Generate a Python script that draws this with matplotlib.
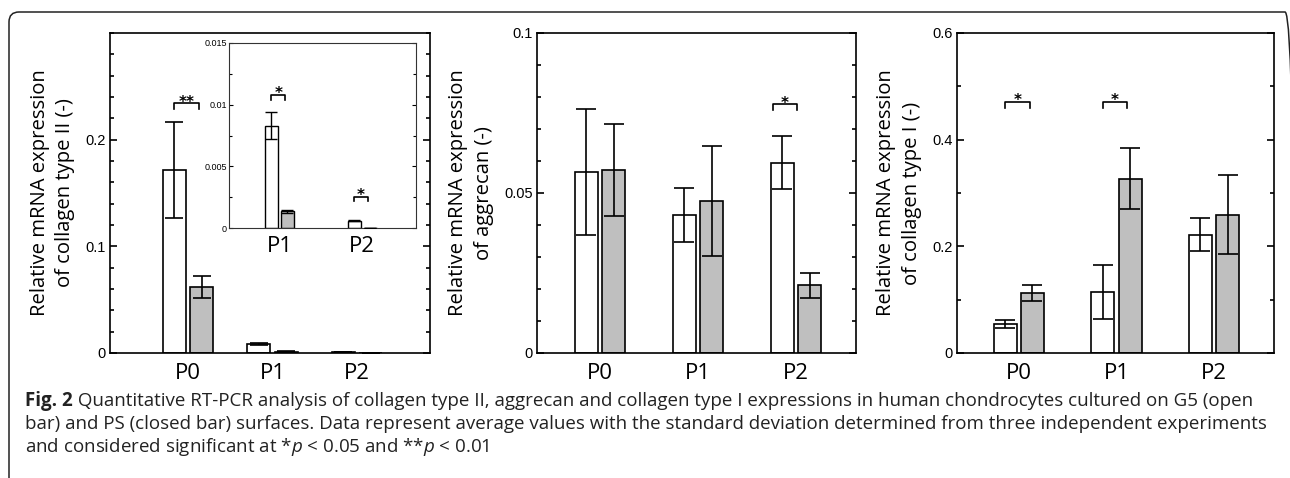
import matplotlib
matplotlib.use('Agg')
import matplotlib.pyplot as plt
import numpy as np
from matplotlib.ticker import FixedLocator, MultipleLocator, FuncFormatter
from matplotlib.patches import FancyBboxPatch
from matplotlib.transforms import IdentityTransform

# ===== DADOS =====
categories = ['P0', 'P1', 'P2']

# colageno tipo II
col2_g5 = [0.1715, 0.0083, 0.0006]
col2_g5_sd = [0.045, 0.0011, 0.00005]
col2_ps = [0.062, 0.00134, 0.00003]
col2_ps_sd = [0.010, 0.00012, 0.00001]

# agrecano
agg_g5 = [0.0566, 0.0431, 0.0595]
agg_g5_sd = [0.0197, 0.0084, 0.0083]
agg_ps = [0.0571, 0.0476, 0.0211]
agg_ps_sd = [0.0144, 0.0172, 0.0039]

# colageno tipo I
col1_g5 = [0.054, 0.114, 0.222]
col1_g5_sd = [0.007, 0.051, 0.031]
col1_ps = [0.112, 0.327, 0.259]
col1_ps_sd = [0.015, 0.057, 0.074]

# significancia: (indice do grupo, altura do colchete, marca)
col2_sig = [(0, 0.234, '**')]
col2_inset_sig = [(1, 0.0108, '*'), (2, 0.00255, '*')]
agg_sig = [(2, 0.0778, '*')]
col1_sig = [(0, 0.4707, '*'), (1, 0.4707, '*')]

ylabels = ['Relative mRNA expression\nof collagen type II (-)',
           'Relative mRNA expression\nof aggrecan (-)',
           'Relative mRNA expression\nof collagen type I (-)']

caption_bold = 'Fig. 2'
caption = [' Quantitative RT-PCR analysis of collagen type II, aggrecan and collagen type I '
           'expressions in human chondrocytes cultured on G5 (open',
           'bar) and PS (closed bar) surfaces. Data represent average values with the standard '
           'deviation determined from three independent experiments',
           'and considered significant at *$p$ < 0.05 and **$p$ < 0.01']

# ===== ESTILO =====
W, H, DPI = 1290, 478, 100
GRAY = '#bfbfbf'
LW = 1.2
NUM_FONT = 'Liberation Sans'
LAB_FONT = 'Open Sans'

plt.rcParams['mathtext.fontset'] = 'custom'
plt.rcParams['mathtext.it'] = 'Open Sans:italic'
plt.rcParams['mathtext.rm'] = 'Open Sans'

fig = plt.figure(figsize=(W / DPI, H / DPI), dpi=DPI)


def px_axes(x0, y0, x1, y1):
    # retangulo em pixels (origem no topo) -> coordenadas da figura
    return fig.add_axes([x0 / W, 1 - y1 / H, (x1 - x0) / W, (y1 - y0) / H])


def style_axes(ax, major, minor, lw=LW, nsize=10.5, msize=5, mnsize=3):
    ax.yaxis.set_major_locator(FixedLocator(major))
    ax.yaxis.set_minor_locator(MultipleLocator(minor))
    ax.yaxis.set_major_formatter(FuncFormatter(lambda v, p: '%g' % v))
    ax.tick_params(axis='y', which='both', direction='in', left=True, right=True,
                   width=lw, labelsize=nsize, pad=3)
    ax.tick_params(axis='y', which='major', length=msize)
    ax.tick_params(axis='y', which='minor', length=mnsize)
    ax.tick_params(axis='x', length=0, labelsize=16, pad=7)
    for lab in ax.get_yticklabels():
        lab.set_fontfamily(NUM_FONT)
    for s in ax.spines.values():
        s.set_linewidth(lw)


def draw_bars(ax, x, g5, g5_sd, ps, ps_sd, width, off, capsize, lw=LW):
    x = np.asarray(x, dtype=float)
    ax.bar(x - off, g5, width, color='white', edgecolor='black', linewidth=lw, zorder=2)
    ax.bar(x + off, ps, width, color=GRAY, edgecolor='black', linewidth=lw, zorder=2)
    for xs, v, e in [(x - off, g5, g5_sd), (x + off, ps, ps_sd)]:
        ax.errorbar(xs, v, yerr=e, fmt='none', ecolor='black', elinewidth=lw,
                    capsize=capsize, capthick=lw, zorder=3)


def brackets(ax, sig, off, leg, dx=0.0, fs=11):
    for i, y, mark in sig:
        x0 = i - off + dx
        x1 = i + off - 0.03 + dx
        ax.plot([x0, x0, x1, x1], [y - leg, y, y, y - leg], color='black', lw=LW, zorder=4)
        ax.annotate(mark, xy=((x0 + x1) / 2, y), xytext=(0, -2.5),
                    textcoords='offset points', ha='center', va='baseline',
                    fontsize=fs, fontweight='bold')


x = np.arange(len(categories))

# ===== PAINEL 1: colageno II =====
ax1 = px_axes(110, 33, 430, 353)
draw_bars(ax1, x, col2_g5, col2_g5_sd, col2_ps, col2_ps_sd, 0.272, 0.163, 6.5)
ax1.set_xlim(-0.923, 2.864)
ax1.set_ylim(0, 0.3)
style_axes(ax1, [0, 0.1, 0.2], 0.02)
ax1.set_xticks(x)
ax1.set_xticklabels(categories, fontfamily=LAB_FONT)
brackets(ax1, col2_sig, 0.163, 0.005)

# inset P1/P2
axi = px_axes(229, 43, 416, 228)
xi = x[1:]
draw_bars(axi, xi, col2_g5[1:], col2_g5_sd[1:], col2_ps[1:], col2_ps_sd[1:],
          0.157, 0.097, 4, lw=1.0)
axi.set_xlim(0.39, 2.65)
axi.set_ylim(0, 0.015)
style_axes(axi, [0, 0.005, 0.01, 0.015], 0.0025, lw=0.8, nsize=6.5, msize=3, mnsize=2)
axi.tick_params(axis='y', pad=1.5)
axi.set_xticks(xi)
axi.set_xticklabels(categories[1:], fontfamily=LAB_FONT)
axi.tick_params(axis='x', pad=6)
for s in axi.spines.values():
    s.set_edgecolor('#333333')
brackets(axi, col2_inset_sig, 0.097, 0.0004)

# ===== PAINEL 2: agrecano =====
ax2 = px_axes(537, 33, 856, 353)
draw_bars(ax2, x, agg_g5, agg_g5_sd, agg_ps, agg_ps_sd, 0.235, 0.14, 7.5)
ax2.set_xlim(-0.645, 2.612)
ax2.set_ylim(0, 0.1)
style_axes(ax2, [0, 0.05, 0.1], 0.01)
ax2.set_xticks(x)
ax2.set_xticklabels(categories, fontfamily=LAB_FONT)
brackets(ax2, agg_sig, 0.14, 0.002, dx=-0.1)

# ===== PAINEL 3: colageno I =====
ax3 = px_axes(957, 33, 1274, 353)
draw_bars(ax3, x, col1_g5, col1_g5_sd, col1_ps, col1_ps_sd, 0.235, 0.14, 7.5)
ax3.set_xlim(-0.633, 2.615)
ax3.set_ylim(0, 0.6)
style_axes(ax3, [0, 0.2, 0.4, 0.6], 0.1)
ax3.set_xticks(x)
ax3.set_xticklabels(categories, fontfamily=LAB_FONT)
brackets(ax3, col1_sig, 0.14, 0.012)

# rotulos do eixo y
for ax, lab, lx in [(ax1, ylabels[0], -0.18), (ax2, ylabels[1], -0.207), (ax3, ylabels[2], -0.183)]:
    ax.set_ylabel(lab, fontfamily=LAB_FONT, fontsize=14.6, va='center',
                  multialignment='center', linespacing=1.35)
    ax.yaxis.set_label_coords(lx, 0.5)

# ===== MOLDURA E LEGENDA =====
frame = FancyBboxPatch((9, -40), 1286, H - 12 + 40, boxstyle='round,pad=0,rounding_size=10',
                       fill=False, edgecolor='#222222', linewidth=1.1,
                       transform=IdentityTransform())
fig.add_artist(frame)

renderer = fig.canvas.get_renderer()
base_y = [406, 429, 452]
fs_cap = 12
t0 = fig.text(25 / W, 1 - base_y[0] / H, caption_bold, fontfamily=LAB_FONT,
              fontweight='bold', fontsize=fs_cap, va='baseline', color='#222222')
t1 = fig.text(0, 1 - base_y[0] / H, caption[0], fontfamily=LAB_FONT,
              fontsize=fs_cap, va='baseline', color='#222222')
# ajusta o tamanho para a primeira linha ocupar ~1222 px, como no original
w_line = t0.get_window_extent(renderer).width + t1.get_window_extent(renderer).width
fs_cap = fs_cap * 1222 / w_line
t0.set_fontsize(fs_cap)
t1.set_fontsize(fs_cap)
bw = t0.get_window_extent(renderer).width
t1.set_x((25 + bw) / W)
for line, by in zip(caption[1:], base_y[1:]):
    fig.text(25 / W, 1 - by / H, line, fontfamily=LAB_FONT, fontsize=fs_cap,
             va='baseline', color='#222222')

fig.savefig('out.png', dpi=DPI)
